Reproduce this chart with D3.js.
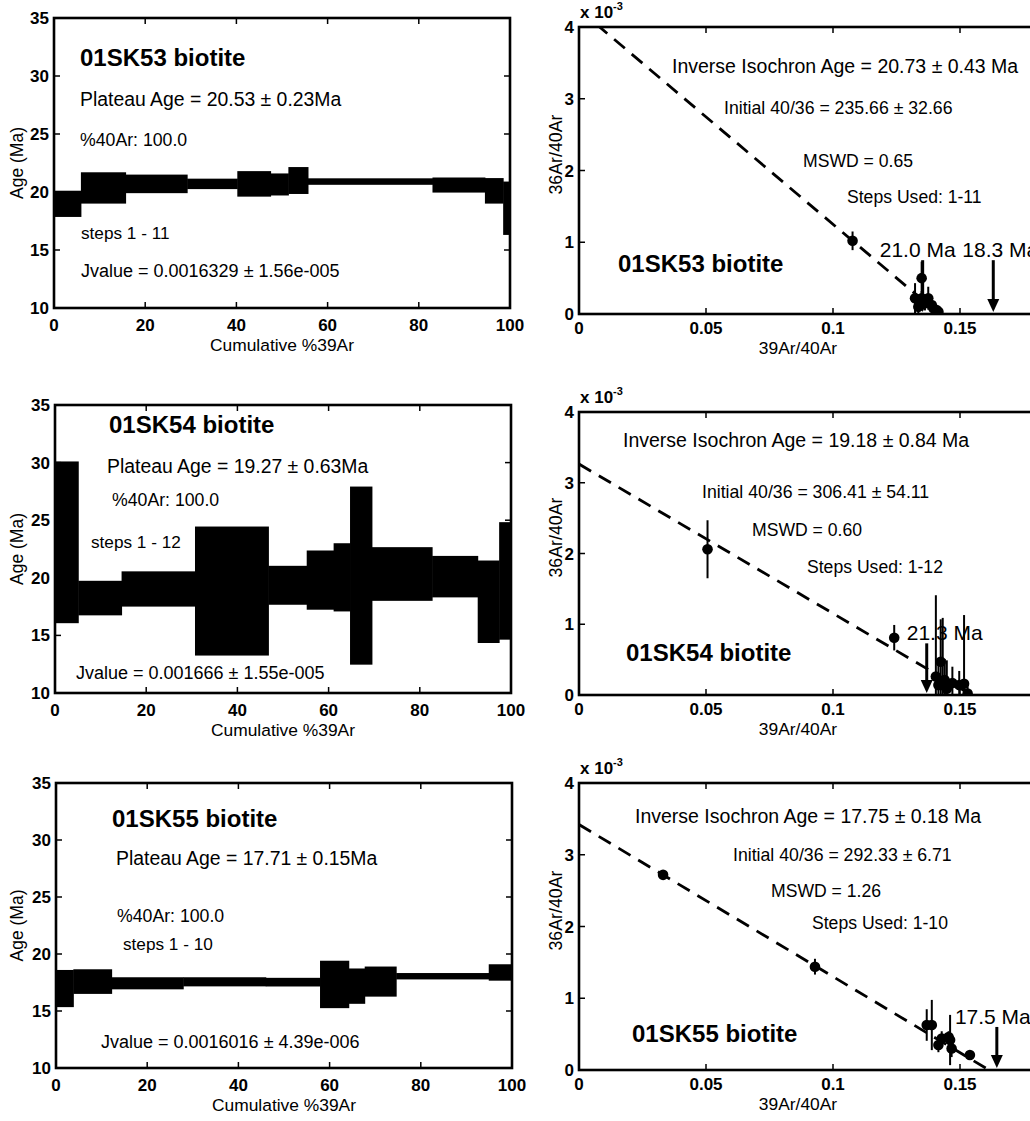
<!DOCTYPE html>
<html>
<head>
<meta charset="utf-8">
<script src="https://cdn.jsdelivr.net/npm/d3@7"></script>
<style>
  body { margin: 0; background: #fff; }
  svg text { font-family: "Liberation Sans", Arial, Helvetica, sans-serif; fill: #000; }
</style>
</head>
<body>
<svg id="fig" width="1030" height="1121"></svg>
<script>
// ---- data ----
const samples = ['01SK53 biotite', '01SK54 biotite', '01SK55 biotite'];

// age spectra: cumulative %39Ar step edges, step age and half-width (Ma)
const edges53 = [0, 5.9, 15.7, 29.2, 40.2, 47.5, 51.4, 55.7, 83.0, 94.5, 98.5, 100];
const age53   = [18.98, 20.35, 20.7, 20.7, 20.7, 20.65, 20.99, 20.9, 20.6, 20.1, 18.6];
const err53   = [1.13, 1.35, 0.8, 0.45, 1.1, 0.95, 1.16, 0.28, 0.65, 1.1, 2.3];

const edges54 = [0, 5.1, 14.6, 30.7, 46.8, 55.2, 61.1, 64.7, 69.5, 82.7, 92.7, 97.4, 100];
const age54   = [23.08, 18.24, 19.03, 18.85, 19.35, 19.8, 20.04, 20.19, 20.33, 20.1, 17.92, 19.73];
const err54   = [7.02, 1.5, 1.53, 5.6, 1.69, 2.57, 2.96, 7.73, 2.33, 1.8, 3.58, 5.1];

const edges55 = [0, 3.8, 12.2, 27.9, 46.0, 57.9, 64.2, 67.7, 74.6, 94.9, 100];
const age55   = [16.97, 17.58, 17.43, 17.56, 17.53, 17.33, 17.18, 17.58, 18.05, 18.38];
const err55   = [1.63, 1.08, 0.53, 0.4, 0.38, 2.08, 1.55, 1.32, 0.28, 0.72];

// inverse isochron: 39Ar/40Ar, 36Ar/40Ar (x 10^-3) and error
const isoX53 = [0.1077, 0.1323, 0.1336, 0.1349, 0.1349, 0.1362, 0.1375, 0.1389, 0.1395, 0.1408, 0.1415];
const isoY53 = [1.02, 0.22, 0.10, 0.50, 0.22, 0.15, 0.22, 0.125, 0.08, 0.056, 0.03];
const isoE53 = [0.13, 0.21, 0.12, 0.23, 0.10, 0.10, 0.16, 0.08, 0.06, 0.05, 0.04];

const isoX54 = [0.0506, 0.1241, 0.1405, 0.1415, 0.1424, 0.1432, 0.1440, 0.1448, 0.1470, 0.1497, 0.1516, 0.1530];
const isoY54 = [2.06, 0.81, 0.26, 0.14, 0.47, 0.14, 0.21, 0.09, 0.17, 0.14, 0.16, 0.02];
const isoE54 = [0.41, 0.18, 1.15, 0.3, 0.6, 0.95, 0.3, 0.4, 0.23, 0.2, 0.97, 0.1];

const isoX55 = [0.0331, 0.0929, 0.1369, 0.1389, 0.1415, 0.1428, 0.1455, 0.1461, 0.1467, 0.1539];
const isoY55 = [2.72, 1.44, 0.627, 0.627, 0.348, 0.44, 0.46, 0.418, 0.30, 0.209];
const isoE55 = [0.06, 0.11, 0.22, 0.35, 0.1, 0.1, 0.08, 0.35, 0.12, 0.05];

// isochron fit: [36/40 intercept (x 10^-3), 39/40 intercept]
const fit53 = [4.243, 0.1418];
const fit54 = [3.264, 0.1546];
const fit55 = [3.421, 0.1614];

// age arrows on the 39/40 axis
const arrows53 = [{ x: 0.1353, top: 0.75, label: '21.0 Ma', dx: -5 }, { x: 0.1631, top: 0.75, label: '18.3 Ma', dx: 7 }];
const arrows54 = [{ x: 0.1369, top: 0.73, label: '21.3 Ma', dx: 18 }];
const arrows55 = [{ x: 0.1645, top: 0.6, label: '17.5 Ma', dx: -4 }];

const plateauText = ['Plateau Age = 20.53 \u00b1 0.23Ma', 'Plateau Age = 19.27 \u00b1 0.63Ma', 'Plateau Age = 17.71 \u00b1 0.15Ma'];
const ar40Text = ['%40Ar: 100.0', '%40Ar: 100.0', '%40Ar: 100.0'];
const stepsText = ['steps 1 - 11', 'steps 1 - 12', 'steps 1 - 10'];
const jText = ['Jvalue = 0.0016329 \u00b1 1.56e-005', 'Jvalue = 0.001666 \u00b1 1.55e-005', 'Jvalue = 0.0016016 \u00b1 4.39e-006'];
const isoAgeText = ['Inverse Isochron Age = 20.73 \u00b1 0.43 Ma', 'Inverse Isochron Age = 19.18 \u00b1 0.84 Ma', 'Inverse Isochron Age = 17.75 \u00b1 0.18 Ma'];
const initText = ['Initial 40/36 = 235.66 \u00b1 32.66', 'Initial 40/36 = 306.41 \u00b1 54.11', 'Initial 40/36 = 292.33 \u00b1 6.71'];
const mswdText = ['MSWD = 0.65', 'MSWD = 0.60', 'MSWD = 1.26'];
const usedText = ['Steps Used: 1-11', 'Steps Used: 1-12', 'Steps Used: 1-10'];

const ageTicks = [10, 15, 20, 25, 30, 35];
const cumTicks = [0, 20, 40, 60, 80, 100];
const ratioTicks = [0, 0.05, 0.1, 0.15];
const r36Ticks = [0, 1, 2, 3, 4];

// ---- layout ----
const rows = [
  { L: { x0: 54, x1: 510, y0: 18, y1: 308 }, R: { x0: 579, y0: 27, y1: 314 },
    lt: [[26, 48], [26, 88], [26, 128], [27, 221], [27, 259]],
    rt: [[93, 46], [145, 87], [224, 140], [268, 176], [39, 245]] },
  { L: { x0: 55, x1: 511, y0: 405, y1: 693 }, R: { x0: 579, y0: 412, y1: 695 },
    lt: [[54, 28], [52, 68], [57, 101], [36, 143], [21, 274]],
    rt: [[44, 35], [123, 86], [173, 124], [228, 161], [47, 249]] },
  { L: { x0: 56, x1: 512, y0: 783, y1: 1068 }, R: { x0: 579, y0: 783, y1: 1070 },
    lt: [[56, 44], [60, 82], [61, 139], [67, 167], [45, 265]],
    rt: [[56, 40], [154, 78], [192, 114], [233, 146], [53, 259]] }
];
const spectra = [[edges53, age53, err53], [edges54, age54, err54], [edges55, age55, err55]];
const isos = [[isoX53, isoY53, isoE53], [isoX54, isoY54, isoE54], [isoX55, isoY55, isoE55]];
const fits = [fit53, fit54, fit55];
const arrows = [arrows53, arrows54, arrows55];

const svg = d3.select('#fig');
const TICK = 6;

function frame(g, x0, y0, x1, y1, xs, ys, xt, yt, xfmt, xoff) {
  // inward ticks on all four sides
  xt.forEach(t => {
    const px = xs(t);
    g.append('line').attr('x1', px).attr('x2', px).attr('y1', y1).attr('y2', y1 - TICK);
    g.append('line').attr('x1', px).attr('x2', px).attr('y1', y0).attr('y2', y0 + TICK);
  });
  yt.forEach(t => {
    const py = ys(t);
    g.append('line').attr('x1', x0).attr('x2', x0 + TICK).attr('y1', py).attr('y2', py);
    g.append('line').attr('x1', x1).attr('x2', x1 - TICK).attr('y1', py).attr('y2', py);
  });
  g.selectAll('line').attr('stroke', '#000').attr('stroke-width', 1.5);
  g.append('rect').attr('x', x0).attr('y', y0).attr('width', x1 - x0).attr('height', y1 - y0)
    .attr('fill', 'none').attr('stroke', '#000').attr('stroke-width', 2.6);
  g.selectAll('.xl').data(xt).join('text')
    .attr('x', d => xs(d)).attr('y', y1 + xoff).attr('text-anchor', 'middle')
    .attr('font-size', 17).attr('font-weight', 'bold').text(xfmt);
  g.selectAll('.yl').data(yt).join('text')
    .attr('x', x0 - 5).attr('y', d => ys(d) + 6).attr('text-anchor', 'end')
    .attr('font-size', 17).attr('font-weight', 'bold').text(d => d);
}

function txt(g, x, y, s, size, bold) {
  g.append('text').attr('x', x).attr('y', y).attr('font-size', size)
    .attr('font-weight', bold ? 'bold' : 'normal').text(s);
}

rows.forEach((row, i) => {
  // ---------- age spectrum ----------
  const L = row.L;
  const gl = svg.append('g');
  const xs = d3.scaleLinear().domain([0, 100]).range([L.x0, L.x1]);
  const ys = d3.scaleLinear().domain([10, 35]).range([L.y1, L.y0]);
  const [ed, ag, er] = spectra[i];
  gl.selectAll('rect.step').data(ag).join('rect').attr('class', 'step')
    .attr('x', (d, k) => xs(ed[k]))
    .attr('width', (d, k) => xs(ed[k + 1]) - xs(ed[k]) + 0.5)
    .attr('y', (d, k) => ys(d + er[k]))
    .attr('height', (d, k) => ys(d - er[k]) - ys(d + er[k]))
    .attr('fill', '#000');
  frame(gl.append('g'), L.x0, L.y0, L.x1, L.y1, xs, ys, cumTicks, ageTicks, d => d, 23);
  const lt = row.lt;
  txt(gl, L.x0 + lt[0][0], L.y0 + lt[0][1], samples[i], 24, true);
  txt(gl, L.x0 + lt[1][0], L.y0 + lt[1][1], plateauText[i], 19.4);
  txt(gl, L.x0 + lt[2][0], L.y0 + lt[2][1], ar40Text[i], 17.7);
  txt(gl, L.x0 + lt[3][0], L.y0 + lt[3][1], stepsText[i], 17.2);
  txt(gl, L.x0 + lt[4][0], L.y0 + lt[4][1], jText[i], 18);
  gl.append('text').attr('x', (L.x0 + L.x1) / 2).attr('y', L.y1 + 43).attr('text-anchor', 'middle')
    .attr('font-size', 17.4).text('Cumulative %39Ar');
  gl.append('text').attr('transform', `translate(23,${(L.y0 + L.y1) / 2}) rotate(-90)`)
    .attr('text-anchor', 'middle').attr('font-size', 17.5).text('Age (Ma)');

  // ---------- inverse isochron ----------
  const R = row.R;
  const gr = svg.append('g');
  const rx = d3.scaleLinear().domain([0, 0.2]).range([R.x0, R.x0 + 508]);
  const ry = d3.scaleLinear().domain([0, 4]).range([R.y1, R.y0]);
  const cid = 'clip' + i;
  gr.append('clipPath').attr('id', cid).append('rect')
    .attr('x', R.x0).attr('y', R.y0).attr('width', 508).attr('height', R.y1 - R.y0);
  const pg = gr.append('g').attr('clip-path', `url(#${cid})`);
  const [fy, fx] = fits[i];
  pg.append('line').attr('x1', rx(0)).attr('y1', ry(fy)).attr('x2', rx(fx)).attr('y2', ry(0))
    .attr('stroke', '#000').attr('stroke-width', 2.8).attr('stroke-dasharray', '14,9');
  const [ix, iy, ie] = isos[i];
  pg.selectAll('line.eb').data(iy).join('line').attr('class', 'eb')
    .attr('x1', (d, k) => rx(ix[k])).attr('x2', (d, k) => rx(ix[k]))
    .attr('y1', (d, k) => ry(d + ie[k])).attr('y2', (d, k) => ry(d - ie[k]))
    .attr('stroke', '#000').attr('stroke-width', 2);
  pg.selectAll('circle').data(iy).join('circle')
    .attr('cx', (d, k) => rx(ix[k])).attr('cy', d => ry(d)).attr('r', 5.3).attr('fill', '#000');
  arrows[i].forEach(a => {
    const ax = rx(a.x), tip = ry(0) - 2;
    gr.append('line').attr('x1', ax).attr('x2', ax).attr('y1', ry(a.top)).attr('y2', tip - 10)
      .attr('stroke', '#000').attr('stroke-width', 3);
    gr.append('path').attr('d', `M${ax - 6},${tip - 13}L${ax + 6},${tip - 13}L${ax},${tip}Z`).attr('fill', '#000');
    gr.append('text').attr('x', ax + a.dx).attr('y', ry(a.top) - 3).attr('text-anchor', 'middle')
      .attr('font-size', 21).text(a.label);
  });
  frame(gr.append('g'), R.x0, R.y0, R.x0 + 508, R.y1, rx, ry, ratioTicks, r36Ticks, d => d === 0 ? '0' : String(d), 20);
  gr.append('text').attr('x', R.x0 + 1).attr('y', R.y0 - 9).attr('font-size', 17).attr('font-weight', 'bold')
    .text('x 10').append('tspan').attr('dy', -8).attr('font-size', 11).text('-3');
  const rt = row.rt;
  txt(gr, R.x0 + rt[0][0], R.y0 + rt[0][1], isoAgeText[i], 19.5);
  txt(gr, R.x0 + rt[1][0], R.y0 + rt[1][1], initText[i], 17.7);
  txt(gr, R.x0 + rt[2][0], R.y0 + rt[2][1], mswdText[i], 17.6);
  txt(gr, R.x0 + rt[3][0], R.y0 + rt[3][1], usedText[i], 17.6);
  txt(gr, R.x0 + rt[4][0], R.y0 + rt[4][1], samples[i], 24, true);
  gr.append('text').attr('x', 798).attr('y', R.y1 + 40).attr('text-anchor', 'middle')
    .attr('font-size', 17.4).text('39Ar/40Ar');
  gr.append('text').attr('transform', `translate(562,${(R.y0 + R.y1) / 2 - 16}) rotate(-90)`)
    .attr('text-anchor', 'middle').attr('font-size', 17.8).text('36Ar/40Ar');
});
</script>
</body>
</html>
